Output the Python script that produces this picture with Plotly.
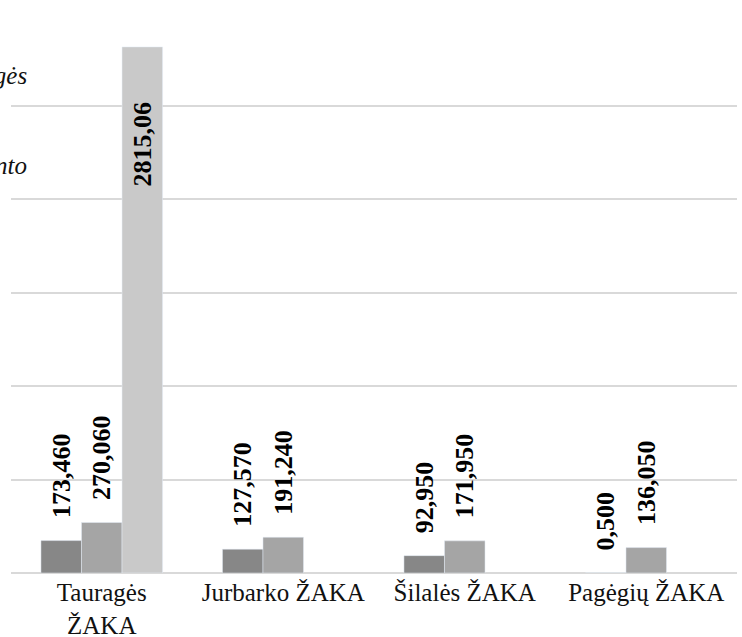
import plotly.graph_objects as go

categories = ["Tauragės<br>ŽAKA", "Jurbarko ŽAKA", "Šilalės ŽAKA", "Pagėgių ŽAKA"]
series1 = [173.460, 127.570, 92.950, 0.500]
series2 = [270.060, 191.240, 171.950, 136.050]
series3 = [2815.06, None, None, None]
labels1 = ["173,460", "127,570", "92,950", "0,500"]
labels2 = ["270,060", "191,240", "171,950", "136,050"]
labels3 = ["2815,06", "", "", ""]
legend_texts = ["Tauragės", "procento"]

colors = ["#878787", "#a5a5a5", "#c9c9c9"]
NB = "\u00a0"
SERIF = "Liberation Serif"
lab_font = dict(family=SERIF, size=26, color="black")

fig = go.Figure()
fig.add_trace(go.Bar(x=categories, y=series1, marker_color=colors[0],
                     text=[f"<b>{NB*3}{t}</b>" for t in labels1],
                     textposition="outside", textangle=-90, textfont=lab_font,
                     constraintext="none", cliponaxis=False, hoverinfo="skip"))
fig.add_trace(go.Bar(x=categories, y=series2, marker_color=colors[1],
                     text=[f"<b>{NB*3}{t}</b>" for t in labels2],
                     textposition="outside", textangle=-90, textfont=lab_font,
                     constraintext="none", cliponaxis=False, hoverinfo="skip"))
fig.add_trace(go.Bar(x=categories, y=series3, marker_color=colors[2],
                     text=[f"<b>{t}{NB*8}</b>" if t else "" for t in labels3],
                     textposition="inside", insidetextanchor="end", textangle=-90,
                     insidetextfont=lab_font, textfont=lab_font,
                     constraintext="none", cliponaxis=False, hoverinfo="skip"))

W, H = 742, 637
ml, mr, mt, mb = 11, 5, 12, 64
pw = W - ml - mr
ph = H - mt - mb

annots = []
for txt, ypix in zip(legend_texts, [75, 165]):
    annots.append(dict(text=f"<i>{txt}</i>", xref="paper", yref="paper",
                       x=(29 - ml) / pw, y=1 - (ypix - mt) / ph,
                       xanchor="right", yanchor="middle", showarrow=False,
                       font=dict(family=SERIF, size=25, color="#111111")))

fig.update_layout(
    width=W, height=H,
    margin=dict(l=ml, r=mr, t=mt, b=mb, pad=0, autoexpand=False),
    paper_bgcolor="white", plot_bgcolor="white",
    barmode="group", bargap=0.33, bargroupgap=0,
    showlegend=False,
    font=dict(family=SERIF, size=25, color="#111111"),
    xaxis=dict(showgrid=False, ticks="", showline=False, automargin=False,
               ticklabelstandoff=2,
               tickfont=dict(family=SERIF, size=25, color="#111111")),
    yaxis=dict(range=[0, 3002], tickvals=[0, 500, 1000, 1500, 2000, 2500, 3000],
               showticklabels=False, showgrid=True, automargin=False,
               gridcolor="#d9d9d9", gridwidth=1.5, zeroline=True,
               zerolinecolor="#d9d9d9", zerolinewidth=1.5, showline=False, ticks=""),
    annotations=annots,
)

fig.write_html("out.html", config={"displayModeBar": False},
               post_script="document.body.style.margin='0';")
